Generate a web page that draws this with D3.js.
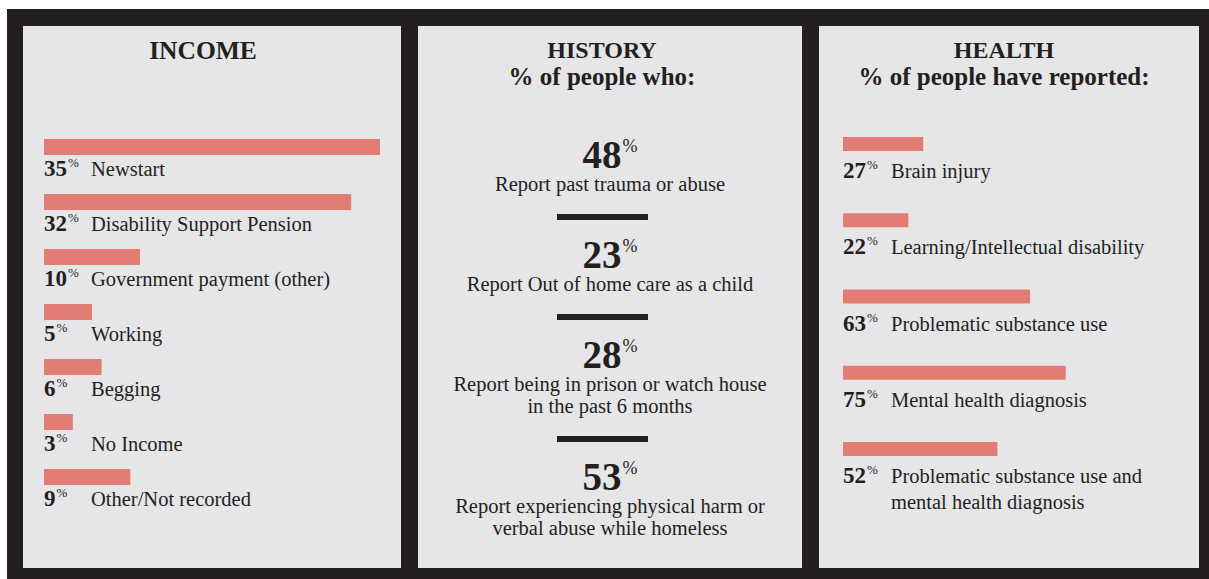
<!DOCTYPE html>
<html>
<head>
<meta charset="utf-8">
<script src="https://cdn.jsdelivr.net/npm/d3@7"></script>
<style>
  html, body { margin: 0; padding: 0; background: #fff; }
  svg text { font-family: "Liberation Serif", "DejaVu Serif", serif; fill: #231f20; }
</style>
</head>
<body>
<svg id="chart" width="1209" height="579"></svg>
<script>
// Data
const incomeCats = ["Newstart", "Disability Support Pension", "Government payment (other)", "Working", "Begging", "No Income", "Other/Not recorded"];
const incomeValues = [35, 32, 10, 5, 6, 3, 9];

const historyValues = [48, 23, 28, 53];
const historyLabels = [
    ["Report past trauma or abuse"],
    ["Report Out of home care as a child"],
    ["Report being in prison or watch house", "in the past 6 months"],
    ["Report experiencing physical harm or", "verbal abuse while homeless"]
];

const healthCats = [
    ["Brain injury"],
    ["Learning/Intellectual disability"],
    ["Problematic substance use"],
    ["Mental health diagnosis"],
    ["Problematic substance use and", "mental health diagnosis"]
];
const healthValues = [27, 22, 63, 75, 52];

const titles = [
    { title: "INCOME", sub: null, cx: 203 },
    { title: "HISTORY", sub: "% of people who:", cx: 602 },
    { title: "HEALTH", sub: "% of people have reported:", cx: 1004 }
];

// Colours
const dark = "#231f20";
const panelFill = "#e6e6e8";
const barFill = "#e27d73";
const labelFill = "#2e2a2b";

const svg = d3.select("#chart");

// Frame + panels
svg.append("rect").attr("x", 7).attr("y", 9).attr("width", 1202).attr("height", 570).attr("fill", dark);
const panels = [[23, 401], [418, 802], [819, 1199]];
svg.selectAll(".panel")
    .data(panels).enter().append("rect")
    .attr("class", "panel")
    .attr("x", d => d[0]).attr("y", 26)
    .attr("width", d => d[1] - d[0]).attr("height", 542)
    .attr("fill", panelFill);

// Titles
titles.forEach(t => {
    svg.append("text")
        .attr("x", t.cx).attr("y", t.sub ? 58 : 59)
        .attr("text-anchor", "middle")
        .attr("font-weight", "bold")
        .attr("font-size", t.sub ? 24 : 25.5)
        .text(t.title);
    if (t.sub) {
        svg.append("text")
            .attr("x", t.cx).attr("y", 85)
            .attr("text-anchor", "middle")
            .attr("font-weight", "bold")
            .attr("font-size", 25)
            .text(t.sub);
    }
});

// --- Income ---
const incX = d3.scaleLinear().domain([0, 35]).range([44, 380]);
const incY = d3.scalePoint().domain(incomeCats).range([139, 469]);
const incBarH = 16;

const inc = svg.append("g");
inc.selectAll("rect")
    .data(incomeCats).enter().append("rect")
    .attr("x", incX(0))
    .attr("y", d => incY(d))
    .attr("width", (d, i) => incX(incomeValues[i]) - incX(0))
    .attr("height", incBarH)
    .attr("fill", barFill);

const incNum = inc.selectAll(".num")
    .data(incomeCats).enter().append("text")
    .attr("class", "num")
    .attr("x", incX(0))
    .attr("y", d => incY(d) + incBarH + 21)
    .attr("font-weight", "bold")
    .attr("font-size", 23);
incNum.append("tspan").text((d, i) => incomeValues[i]);
incNum.append("tspan").attr("font-size", 13).attr("font-weight", "normal").attr("dx", 1).attr("dy", -9).text("%");

inc.selectAll(".lbl")
    .data(incomeCats).enter().append("text")
    .attr("class", "lbl")
    .attr("x", 91)
    .attr("y", d => incY(d) + incBarH + 21)
    .attr("font-size", 20.5)
    .attr("fill", labelFill)
    .text(d => d);

// --- History ---
const cx = 610;
let cursor = 168;
const hist = svg.append("g");
historyValues.forEach((v, i) => {
    const num = hist.append("text")
        .attr("x", cx).attr("y", cursor)
        .attr("text-anchor", "middle")
        .attr("font-weight", "bold")
        .attr("font-size", 39);
    num.append("tspan").text(v);
    num.append("tspan").attr("font-size", 18).attr("font-weight", "normal").attr("dx", 1).attr("dy", -16).text("%");

    let ly = cursor;
    historyLabels[i].forEach((l, j) => {
        ly += (j === 0 ? 23 : 22);
        hist.append("text")
            .attr("x", cx).attr("y", ly)
            .attr("text-anchor", "middle")
            .attr("font-size", 20.5)
            .attr("fill", labelFill)
            .text(l);
    });
    if (i < historyValues.length - 1) {
        const dy = ly + 23;
        hist.append("rect")
            .attr("x", 557).attr("y", dy)
            .attr("width", 91).attr("height", 6)
            .attr("fill", dark);
        cursor = dy + 54;
    }
});

// --- Health ---
const hX = d3.scaleLinear().domain([0, 100]).range([843, 843 + 297]);
const hY = d3.scalePoint().domain(d3.range(healthValues.length)).range([137, 442]);
const hBarH = 14;

const hl = svg.append("g");
hl.selectAll("rect")
    .data(healthValues).enter().append("rect")
    .attr("x", hX(0))
    .attr("y", (d, i) => hY(i))
    .attr("width", d => hX(d) - hX(0))
    .attr("height", hBarH)
    .attr("fill", barFill);

const hNum = hl.selectAll(".num")
    .data(healthValues).enter().append("text")
    .attr("class", "num")
    .attr("x", hX(0))
    .attr("y", (d, i) => hY(i) + hBarH + 27)
    .attr("font-weight", "bold")
    .attr("font-size", 23);
hNum.append("tspan").text(d => d);
hNum.append("tspan").attr("font-size", 13).attr("font-weight", "normal").attr("dx", 1).attr("dy", -9).text("%");

healthCats.forEach((lines, i) => {
    const t = hl.append("text")
        .attr("font-size", 20.5)
        .attr("fill", labelFill);
    lines.forEach((l, j) => {
        t.append("tspan")
            .attr("x", 891)
            .attr("y", hY(i) + hBarH + 27 + j * 26)
            .text(l);
    });
});
</script>
</body>
</html>
